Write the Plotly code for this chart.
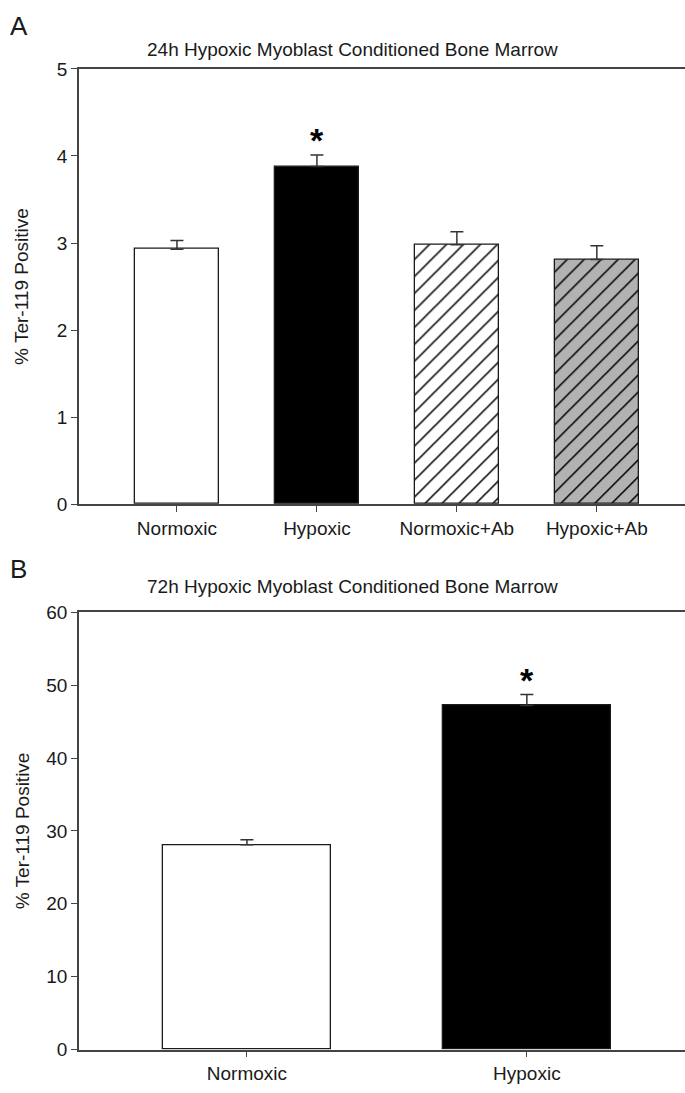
import plotly.graph_objects as go

# ---- data ----
cats_a = ["Normoxic", "Hypoxic", "Normoxic+Ab", "Hypoxic+Ab"]
vals_a = [2.93, 3.88, 2.98, 2.81]
errs_a = [0.10, 0.13, 0.15, 0.16]
sig_a = [False, True, False, False]

cats_b = ["Normoxic", "Hypoxic"]
vals_b = [28.1, 47.2]
errs_b = [0.7, 1.5]
sig_b = [False, True]

title_a = "24h Hypoxic Myoblast Conditioned Bone Marrow"
title_b = "72h Hypoxic Myoblast Conditioned Bone Marrow"
ytitle = "% Ter-119 Positive"
yticks_a = [0, 1, 2, 3, 4, 5]
yticks_b = [0, 10, 20, 30, 40, 50, 60]

# ---- styling ----
W, H = 685, 1093
L, R = 79, 0
FONT = "Liberation Sans, Arial, sans-serif"
AX = "#444444"
TXT = "#1a1a1a"

fill_a = ["white", "black", "white", "#b2b2b2"]
shape_a = ["", "", "/", "/"]
fill_b = ["white", "black"]

def py(px):
    return 1 - px / H

def pxx(px):
    return (px - L) / (W - L - R)

fig = go.Figure()

for c, v, e, col, shp in zip(cats_a, vals_a, errs_a, fill_a, shape_a):
    fig.add_trace(go.Bar(
        x=[c], y=[v], width=0.6, xaxis="x", yaxis="y",
        marker=dict(color=col, line=dict(color="#1a1a1a", width=1.3),
                    pattern=dict(shape=shp, fgcolor="black", bgcolor=col, fgopacity=1,
                                 fillmode="replace", size=12, solidity=0.13)),
        error_y=dict(type="data", array=[e], arrayminus=[0],
                     symmetric=False, color="#333333", thickness=1.5, width=6.5),
        showlegend=False,
    ))
for c, v, e, col in zip(cats_b, vals_b, errs_b, fill_b):
    fig.add_trace(go.Bar(
        x=[c], y=[v], width=0.6, xaxis="x2", yaxis="y2",
        marker=dict(color=col, line=dict(color="#1a1a1a", width=1.3)),
        error_y=dict(type="data", array=[e], arrayminus=[0],
                     symmetric=False, color="#333333", thickness=1.5, width=6.5),
        showlegend=False,
    ))

axis_common = dict(showline=True, linecolor=AX, linewidth=1.5, ticks="outside",
                   tickcolor=AX, ticklen=6, tickwidth=1.2, showgrid=False,
                   zeroline=False, tickfont=dict(family=FONT, size=19, color=TXT))

top_a, bot_a = 60, 504
top_b, bot_b = 614, 1060

fig.update_layout(
    width=W, height=H,
    margin=dict(l=L, r=R, t=0, b=0),
    paper_bgcolor="white", plot_bgcolor="white",
    barmode="overlay", bargap=0,
    xaxis=dict(domain=[0, 1], anchor="y", range=[-0.70, 3.63], mirror=True,
               categoryorder="array", categoryarray=cats_a, **axis_common),
    yaxis=dict(domain=[py(bot_a), py(top_a)], anchor="x", range=[0, 5],
               tickvals=yticks_a,
               title=dict(text=ytitle, font=dict(family=FONT, size=19, color=TXT), standoff=23),
               **axis_common),
    xaxis2=dict(domain=[0, 1], anchor="y2", range=[-0.60, 1.565], mirror=True,
                categoryorder="array", categoryarray=cats_b, **axis_common),
    yaxis2=dict(domain=[py(bot_b), py(top_b)], anchor="x2", range=[0, 60],
                tickvals=yticks_b,
                title=dict(text=ytitle, font=dict(family=FONT, size=19, color=TXT), standoff=12),
                **axis_common),
)

ann = []
for c, v, e, s in zip(cats_a, vals_a, errs_a, sig_a):
    if s:
        ann.append(dict(x=c, y=v + e, xref="x", yref="y", text="<b>*</b>", showarrow=False,
                        yanchor="bottom", yshift=-6, font=dict(family=FONT, size=34, color="black")))
for c, v, e, s in zip(cats_b, vals_b, errs_b, sig_b):
    if s:
        ann.append(dict(x=c, y=v + e, xref="x2", yref="y2", text="<b>*</b>", showarrow=False,
                        yanchor="bottom", yshift=-6, font=dict(family=FONT, size=34, color="black")))

ann += [
    dict(x=pxx(352), y=py(40), xref="paper", yref="paper", text=title_a, showarrow=False,
         xanchor="center", yanchor="middle", font=dict(family=FONT, size=19, color=TXT)),
    dict(x=pxx(352), y=py(588), xref="paper", yref="paper", text=title_b, showarrow=False,
         xanchor="center", yanchor="middle", font=dict(family=FONT, size=19, color=TXT)),
    dict(x=pxx(8), y=py(16), xref="paper", yref="paper", text="A", showarrow=False,
         xanchor="left", yanchor="middle", font=dict(family=FONT, size=26, color=TXT)),
    dict(x=pxx(8), y=py(570), xref="paper", yref="paper", text="B", showarrow=False,
         xanchor="left", yanchor="middle", font=dict(family=FONT, size=26, color=TXT)),
]
fig.update_layout(annotations=ann)

fig.write_html("out.html")
